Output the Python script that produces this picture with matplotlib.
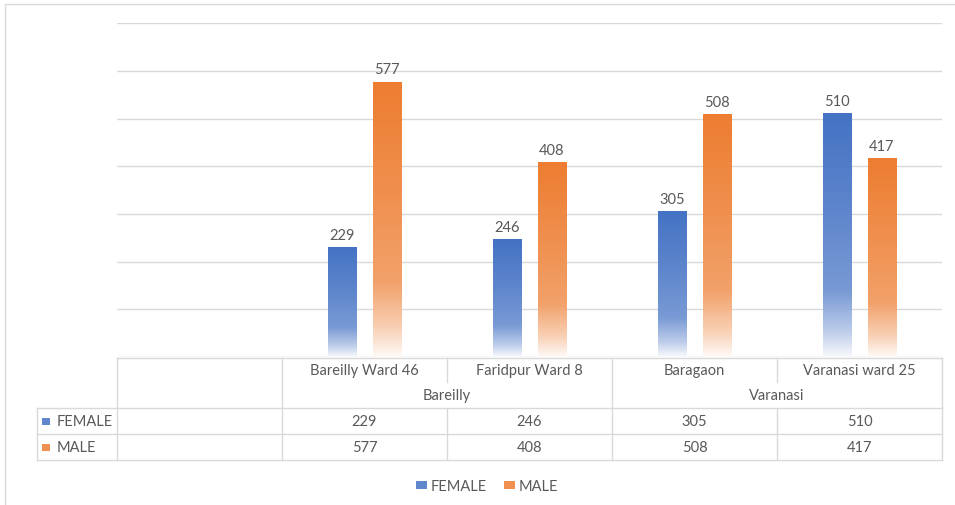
import numpy as np
import matplotlib
matplotlib.use("Agg")
import matplotlib.pyplot as plt
from matplotlib.patches import Patch, Rectangle
from matplotlib.colors import to_rgb
from matplotlib import transforms

# chart data
categories = ["", "Bareilly Ward 46", "Faridpur Ward 8", "Baragaon", "Varanasi ward 25"]
groups = [("Bareilly", 1, 2), ("Varanasi", 3, 4)]
series = ["FEMALE", "MALE"]
female = [None, 229, 246, 305, 510]
male = [None, 577, 408, 508, 417]
colors = ["#4472C4", "#ED7D31"]

plt.rcParams["font.family"] = ["Lato", "DejaVu Sans"]
txt = "#595959"
grid_c = "#D9D9D9"

W, H = 955, 506
fig = plt.figure(figsize=(W / 100, H / 100), dpi=100)
ax = fig.add_axes([117 / W, 1 - 358 / H, 825 / W, (358 - 24.4) / H])

# outer chart border
fig.patches.append(Rectangle((5 / W, -0.1), 1.2, 1 - 5 / H + 0.1, transform=fig.transFigure,
                             fill=False, edgecolor=grid_c, lw=1))


def gradient_bar(x, h, w, color):
    # excel style: solid at the top, fading to white at the bottom
    rgb = np.array(to_rgb(color))
    t = np.linspace(0, 1, 200)
    f = np.interp(t, [0, 0.1, 0.27, 0.6, 1], [0.04, 0.35, 0.72, 0.86, 1.0])
    img = 1 - (1 - rgb[None, :]) * f[:, None]
    img = img[:, None, :]
    ax.imshow(img, extent=(x - w / 2, x + w / 2, 0, h), origin="lower",
              aspect="auto", interpolation="bilinear", zorder=2)


bw = 0.17
offs = [-0.136, 0.136]
for k, vals in enumerate([female, male]):
    for i, v in enumerate(vals):
        if v is None:
            continue
        x = i + offs[k]
        gradient_bar(x, v, bw, colors[k])
        ax.annotate(str(v), (x, v), xytext=(0, 4), textcoords="offset points",
                    ha="center", va="bottom", fontsize=10.5, color=txt)

ax.set_xlim(-0.5, len(categories) - 0.5)
ax.set_ylim(0, 700)
ax.set_yticks(range(0, 701, 100))
ax.set_xticks([])
ax.yaxis.grid(True, color=grid_c, lw=1)
ax.set_axisbelow(True)
ax.tick_params(left=False, labelleft=False)
for s in ax.spines.values():
    s.set_visible(False)

# data table below the plot
tr = transforms.blended_transform_factory(ax.transData, fig.transFigure)


def fy(p):
    return 1 - p / H


def hline(x0, x1, y):
    fig.add_artist(plt.Line2D([x0, x1], [fy(y), fy(y)], transform=tr, color=grid_c, lw=1))


def vline(x, y0, y1):
    fig.add_artist(plt.Line2D([x, x], [fy(y0), fy(y1)], transform=tr, color=grid_c, lw=1))


n = len(categories)
xl = -0.5
xr = n - 0.5
xkey = -0.5 - 80 / 165
hline(xl, xr, 358.5)
for y in (409, 435, 461):
    hline(xkey, xr, y)
vline(xkey, 409, 461)
group_edges = {-0.5, n - 0.5}
for name, a, b in groups:
    group_edges.add(a - 0.5)
    group_edges.add(b + 0.5)
for k in range(n + 1):
    x = k - 0.5
    if x in group_edges or k == 1:
        vline(x, 358.5, 461)
    else:
        vline(x, 358.5, 383)
        vline(x, 409, 461)

for i, c in enumerate(categories):
    fig.text(i, fy(371), c, transform=tr, ha="center", va="center", fontsize=10.5, color=txt)
for name, a, b in groups:
    fig.text((a + b) / 2, fy(396), name, transform=tr, ha="center", va="center",
             fontsize=10.5, color=txt)

for r, (name, vals) in enumerate(zip(series, [female, male])):
    yc = 422 + 26 * r
    fig.patches.append(Rectangle((xkey + 5 / 165, fy(yc + 3.5)), 8 / 165, 7 / H, transform=tr,
                                 facecolor=colors[r], edgecolor="none", alpha=0.85))
    fig.text(xkey + 20 / 165, fy(yc), name, transform=tr, ha="left", va="center",
             fontsize=10.5, color=txt)
    for i, v in enumerate(vals):
        if v is None:
            continue
        fig.text(i, fy(yc), str(v), transform=tr, ha="center", va="center",
                 fontsize=10.5, color=txt)

handles = [Patch(facecolor=c, edgecolor="none", alpha=0.85) for c in colors]
fig.legend(handles, series, loc="center", bbox_to_anchor=(487 / W, fy(487)), ncol=2,
           frameon=False, fontsize=10.5, labelcolor=txt, handlelength=0.75, handleheight=0.5,
           handletextpad=0.25, columnspacing=1.2)

fig.savefig("out.png", dpi=100)
